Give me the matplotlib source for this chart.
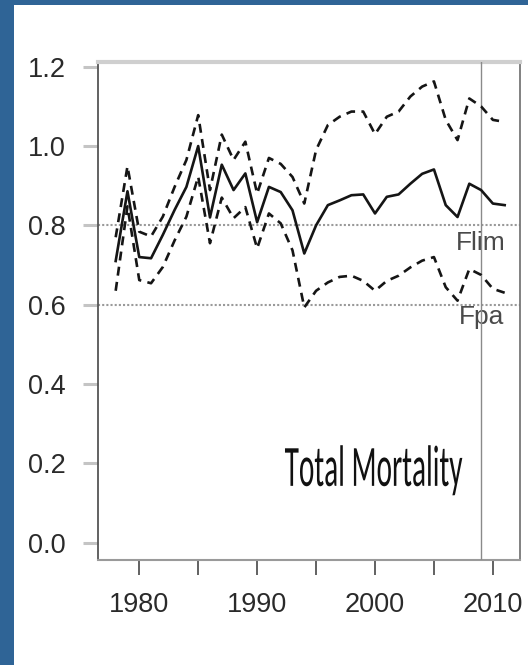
import matplotlib
matplotlib.use("Agg")
import matplotlib.pyplot as plt
from matplotlib.patheffects import AbstractPathEffect
from matplotlib.transforms import Affine2D

years = list(range(1978, 2012))
total_mortality = [0.71, 0.886, 0.72, 0.717, 0.776, 0.839, 0.897, 1.0, 0.82, 0.953,
                   0.889, 0.931, 0.808, 0.897, 0.884, 0.838, 0.729, 0.80, 0.851, 0.863,
                   0.876, 0.878, 0.83, 0.872, 0.878, 0.905, 0.93, 0.941, 0.851, 0.821,
                   0.905, 0.889, 0.855, 0.851]
upper_ci = [0.77, 0.949, 0.784, 0.772, 0.822, 0.897, 0.965, 1.078, 0.889, 1.029,
            0.965, 1.011, 0.88, 0.97, 0.955, 0.922, 0.855, 0.99, 1.053, 1.074,
            1.087, 1.087, 1.03, 1.074, 1.087, 1.125, 1.15, 1.163, 1.066, 1.015,
            1.12, 1.10, 1.066, 1.061]
lower_ci = [0.635, 0.848, 0.662, 0.654, 0.695, 0.762, 0.822, 0.923, 0.755, 0.87,
            0.818, 0.846, 0.742, 0.83, 0.805, 0.737, 0.593, 0.635, 0.656, 0.67,
            0.673, 0.66, 0.635, 0.66, 0.673, 0.694, 0.711, 0.72, 0.644, 0.61,
            0.69, 0.675, 0.64, 0.63]
ref_levels = [0.8, 0.6]
ref_labels = ["Flim", "Fpa"]
ref_label_y = [0.756, 0.569]
ref_label_year = 2009
assessment_year = 2009
title_text = "Total Mortality"
xticks = [1980, 1985, 1990, 1995, 2000, 2005, 2010]
xticklabels = ["1980", "", "1990", "", "2000", "", "2010"]
yticks = [0.0, 0.2, 0.4, 0.6, 0.8, 1.0, 1.2]
yticklabels = ["0.0", "0.2", "0.4", "0.6", "0.8", "1.0", "1.2"]


class VStretch(AbstractPathEffect):
    """Stretch glyph outlines vertically about a baseline (text stays real text)."""

    def __init__(self, sy, baseline_fn):
        super().__init__()
        self.sy = sy
        self.baseline_fn = baseline_fn

    def draw_path(self, renderer, gc, tpath, affine, rgbFace=None):
        y0 = self.baseline_fn()
        extra = Affine2D().translate(0, -y0).scale(1, self.sy).translate(0, y0)
        renderer.draw_path(gc, tpath, affine + extra, rgbFace)


W, H = 528, 665
fig = plt.figure(figsize=(W / 100, H / 100), dpi=100)
fig.patch.set_facecolor("#2F6496")
fig.add_artist(plt.Rectangle((14 / W, 0), 1 - 14 / W, 1 - 5 / H,
                             transform=fig.transFigure, facecolor="white",
                             edgecolor="none", zorder=0))

ax = fig.add_axes([98 / W, 1 - 560 / H, (520 - 98) / W, (560 - 62) / H])
ax.set_facecolor("white")
ax.set_xlim(1976.5, 2012.3)
ax.set_ylim(-0.044, 1.212)

lw = 1.9
ax.plot(years, total_mortality, color="#151515", lw=lw, zorder=4)
ax.plot(years, upper_ci, color="#151515", lw=lw, dashes=(3.4, 2.4), zorder=4)
ax.plot(years, lower_ci, color="#151515", lw=lw, dashes=(3.4, 2.4), zorder=4)

for lvl in ref_levels:
    ax.axhline(lvl, color="#9a9a9a", lw=1.5, dashes=(1, 1), zorder=2)
for lab, yv in zip(ref_labels, ref_label_y):
    ax.text(ref_label_year, yv, lab, ha="center", va="center", fontsize=19,
            color="#4a4a4a", family=["Liberation Sans", "DejaVu Sans"], zorder=3)
ax.axvline(assessment_year, color="#8a8a8a", lw=1.0, zorder=3)

# title text: Carlito sized to the reference width, then stretched vertically
tx, ty = 1999.9, 0.143
title = ax.text(tx, ty, title_text, ha="center", va="baseline", fontsize=20,
                color="#111111", family=["Carlito", "DejaVu Sans"], zorder=3)
renderer = fig.canvas.get_renderer()
w20 = title.get_window_extent(renderer).width
size = 20 * 178.0 / w20
title.set_fontsize(size)
cap_px = 0.632 * size * 100 / 72
title.set_path_effects([VStretch(37.0 / cap_px,
                                 lambda: ax.transData.transform((tx, ty))[1])])

ax.set_xticks(xticks)
ax.set_xticklabels(xticklabels)
ax.set_yticks(yticks)
ax.set_yticklabels(yticklabels)

for lab in ax.get_xticklabels() + ax.get_yticklabels():
    lab.set_family(["Liberation Sans", "DejaVu Sans"])
    lab.set_fontsize(19.5)
    lab.set_color("#2a2a2a")

ax.tick_params(axis="x", direction="out", length=11, width=1.3, color="#555555", pad=12)
ax.tick_params(axis="y", direction="out", length=11, width=2.2, color="#c4c4c4", pad=12)

ax.spines["left"].set_color("#555555")
ax.spines["left"].set_linewidth(1.3)
ax.spines["right"].set_color("#777777")
ax.spines["right"].set_linewidth(1.3)
ax.spines["bottom"].set_color("#9a9a9a")
ax.spines["bottom"].set_linewidth(1.5)
ax.spines["top"].set_color("#cfcfcf")
ax.spines["top"].set_linewidth(3)

fig.savefig("out.png", dpi=100, facecolor=fig.get_facecolor())
